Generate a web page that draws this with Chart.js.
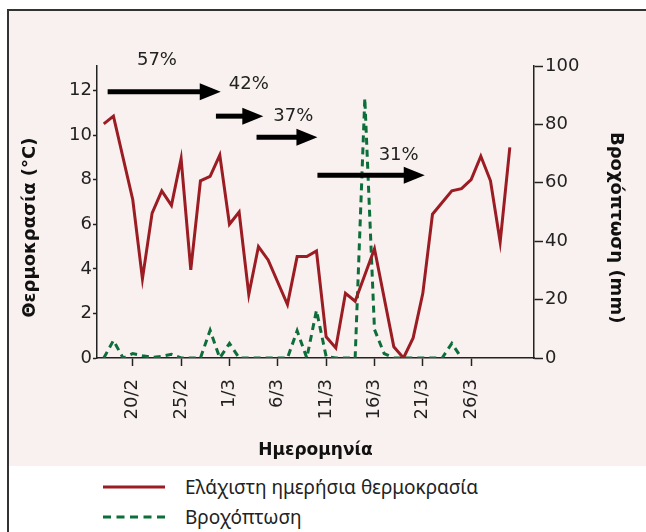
<!DOCTYPE html>
<html>
<head>
<meta charset="utf-8">
<script src="https://cdn.jsdelivr.net/npm/chart.js@4.4.0/dist/chart.umd.min.js"></script>
<style>
    html, body { margin: 0; padding: 0; overflow: hidden; background: #fff; }
    #frame { position: absolute; left: 7px; top: 9px; width: 700px; height: 600px; border: 2px solid #333; background: #fff; }
    #pink { position: absolute; left: 9px; top: 11px; width: 637px; height: 455px; background: #f9f1ef; }
    #wrap { position: absolute; left: 0; top: 0; width: 646px; height: 466px; }
    .item { position: absolute; left: 0; width: 646px; height: 26px; font-family: "Noto Sans", sans-serif; font-size: 19px; color: #222; }
    .item svg { position: absolute; left: 103px; top: 10px; }
    .item span { position: absolute; left: 185px; top: 0; line-height: 26px; white-space: nowrap; }
</style>
</head>
<body>
<div id="frame"></div>
<div id="pink"></div>
<div id="wrap"><canvas id="tempChart" width="646" height="466"></canvas></div>
<div class="item" style="top:474px">
    <svg width="64" height="6"><line x1="0" y1="3" x2="62" y2="3" stroke="#9b1c23" stroke-width="3"/></svg>
    <span>Ελάχιστη ημερήσια θερμοκρασία</span>
</div>
<div class="item" style="top:504px">
    <svg width="64" height="6"><line x1="0" y1="3" x2="62" y2="3" stroke="#0d6e3a" stroke-width="3" stroke-dasharray="8 5.5"/></svg>
    <span>Βροχόπτωση</span>
</div>
<script>
// Ημερομηνίες (17/2 - 30/3)
const dates = ['17/2', '18/2', '19/2', '20/2', '21/2', '22/2', '23/2', '24/2', '25/2', '26/2',
    '27/2', '28/2', '29/2', '1/3', '2/3', '3/3', '4/3', '5/3', '6/3', '7/3',
    '8/3', '9/3', '10/3', '11/3', '12/3', '13/3', '14/3', '15/3', '16/3', '17/3',
    '18/3', '19/3', '20/3', '21/3', '22/3', '23/3', '24/3', '25/3', '26/3', '27/3',
    '28/3', '29/3', '30/3'];

// Ελάχιστη θερμοκρασία (°C), null = χωρίς μέτρηση
const tempMin = [10.5, 10.85, null, 7.1, 3.55, 6.5, 7.5, 6.85, 8.95, 3.95,
    7.95, 8.15, 9.1, 6.0, 6.55, 2.85, 5.0, 4.4, null, 2.4,
    4.55, 4.55, 4.8, 0.95, 0.45, 2.9, 2.55, null, 4.9, null,
    0.5, 0, 0.9, 2.9, 6.45, null, 7.5, 7.6, 8.0, 9.05,
    7.95, 5.2, 9.45];

// Βροχόπτωση (mm)
const rainfall = [0, 6, 0, 1.5, 0.8, 0.2, 0.6, 1.3, 0, 0,
    0, 9.5, 0, 5, 0, 0, 0, 0, 0, 0,
    9.3, 0, 16.3, 0.5, 0, 0, 0, 89, 9.8, 1.5,
    0, 0, 0, 0, 0, 0, 5, 0, null, null,
    null, null, null];

// Ετικέτες άξονα x
const tickDates = ['20/2', '25/2', '1/3', '6/3', '11/3', '16/3', '21/3', '26/3'];
const tempTicks = [0, 2, 4, 6, 8, 10, 12];
const rainTicks = [0, 20, 40, 60, 80, 100];

// Βέλη: αρχή/τέλος (ημέρα), ύψος (°C), ποσοστό
const arrowLabels = ['57%', '42%', '37%', '31%'];
const arrowStart = [0.4, 11.6, 15.8, 22.1];
const arrowEnd = [12.1, 16.5, 22.1, 33.2];
const arrowLevel = [11.95, 10.85, 9.9, 8.2];
const labelDay = [5.5, 15.0, 19.6, 30.5];
const labelLevel = [13.35, 12.3, 10.85, 9.1];

const tickColor = '#222';
const pad = '\u00a0'.repeat(5); // μετατόπιση τίτλων προς τα κάτω

// Σχεδίαση βελών με ποσοστά
const arrowPlugin = {
    id: 'arrows',
    afterDatasetsDraw(chart) {
        const { ctx, scales: { x, y } } = chart;
        ctx.save();
        ctx.fillStyle = '#000';
        ctx.strokeStyle = '#000';
        arrowLabels.forEach((lab, i) => {
            const x0 = x.getPixelForValue(arrowStart[i]);
            const x1 = x.getPixelForValue(arrowEnd[i]);
            const yy = y.getPixelForValue(arrowLevel[i]);
            ctx.lineWidth = 5;
            ctx.beginPath();
            ctx.moveTo(x0, yy);
            ctx.lineTo(x1 - 18, yy);
            ctx.stroke();
            ctx.beginPath();
            ctx.moveTo(x1, yy);
            ctx.lineTo(x1 - 21, yy - 8.5);
            ctx.lineTo(x1 - 21, yy + 8.5);
            ctx.closePath();
            ctx.fill();
            ctx.fillStyle = '#222';
            ctx.font = '18px "DejaVu Sans"';
            ctx.textAlign = 'center';
            ctx.textBaseline = 'middle';
            ctx.fillText(lab, x.getPixelForValue(labelDay[i]), y.getPixelForValue(labelLevel[i]));
            ctx.fillStyle = '#000';
        });
        ctx.restore();
    }
};

const ctx = document.getElementById('tempChart').getContext('2d');
new Chart(ctx, {
    type: 'line',
    data: {
        datasets: [
            {
                label: 'Ελάχιστη ημερήσια θερμοκρασία',
                data: tempMin.map((v, i) => ({ x: i, y: v })),
                borderColor: '#9b1c23',
                borderWidth: 3,
                pointRadius: 0,
                tension: 0,
                spanGaps: true,
                yAxisID: 'y'
            },
            {
                label: 'Βροχόπτωση',
                data: rainfall.map((v, i) => ({ x: i, y: v })),
                borderColor: '#0d6e3a',
                borderWidth: 3,
                borderDash: [7, 5],
                pointRadius: 0,
                tension: 0,
                yAxisID: 'y2'
            }
        ]
    },
    options: {
        responsive: false,
        animation: false,
        layout: { padding: { left: 0, right: 0, top: 66, bottom: 0 } },
        plugins: {
            legend: { display: false },
            tooltip: { enabled: false }
        },
        scales: {
            x: {
                type: 'linear',
                min: -0.7,
                max: 44.5,
                afterBuildTicks: (scale) => {
                    scale.ticks = tickDates.map(d => ({ value: dates.indexOf(d) }));
                },
                afterFit: (scale) => { scale.height = 108; },
                ticks: {
                    autoSkip: false,
                    minRotation: 90,
                    maxRotation: 90,
                    padding: 13,
                    color: tickColor,
                    font: { family: 'DejaVu Sans', size: 18 },
                    callback: (v) => dates[v]
                },
                grid: { drawOnChartArea: false, tickLength: 8, color: tickColor, tickWidth: 1.5 },
                border: { color: tickColor, width: 1.5 },
                title: {
                    display: true,
                    text: 'Ημερομηνία',
                    color: '#111',
                    font: { family: 'DejaVu Sans', size: 17, weight: 'bold' },
                    padding: { top: 0, bottom: 5 }
                }
            },
            y: {
                position: 'left',
                min: 0,
                max: 13.1,
                afterFit: (scale) => { scale.width = 97; },
                afterBuildTicks: (scale) => {
                    scale.ticks = tempTicks.map(v => ({ value: v }));
                },
                ticks: {
                    padding: 1,
                    color: tickColor,
                    font: { family: 'DejaVu Sans', size: 18 }
                },
                grid: { drawOnChartArea: false, tickLength: 4, color: tickColor, tickWidth: 1.5 },
                border: { color: tickColor, width: 1.5 },
                title: {
                    display: true,
                    text: 'Θερμοκρασία (°C)' + pad,
                    color: '#111',
                    font: { family: 'DejaVu Sans', size: 18, weight: 'bold' },
                    padding: { top: 20, bottom: 0 }
                }
            },
            y2: {
                position: 'right',
                min: 0,
                max: 100,
                afterFit: (scale) => { scale.width = 112; },
                afterBuildTicks: (scale) => {
                    scale.ticks = rainTicks.map(v => ({ value: v }));
                },
                ticks: {
                    padding: 2,
                    color: tickColor,
                    font: { family: 'DejaVu Sans', size: 18 }
                },
                grid: { drawOnChartArea: false, tickLength: 9, color: tickColor, tickWidth: 1.5 },
                border: { color: tickColor, width: 1.5 },
                title: {
                    display: true,
                    text: pad + 'Βροχόπτωση (mm)',
                    color: '#111',
                    font: { family: 'DejaVu Sans', size: 18, weight: 'bold' },
                    padding: { top: 20, bottom: 0 }
                }
            }
        }
    },
    plugins: [arrowPlugin]
});
</script>
</body>
</html>
